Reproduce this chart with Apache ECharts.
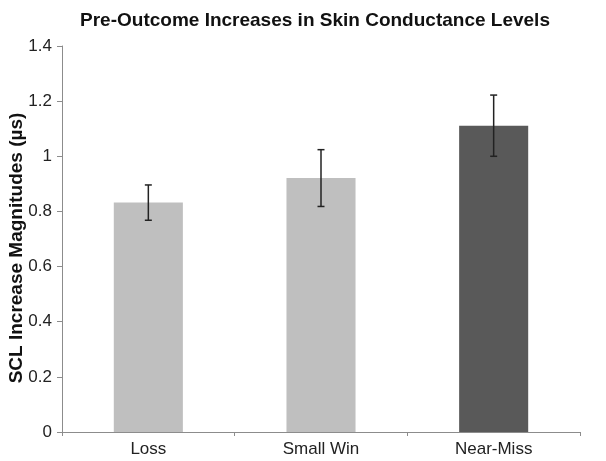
<!DOCTYPE html>
<html>
<head>
<meta charset="utf-8">
<script src="https://cdn.jsdelivr.net/npm/echarts@6/dist/echarts.min.js"></script>
<style>
  html, body { margin: 0; padding: 0; background: #fff; }
  #chart { width: 606px; height: 461px; }
</style>
</head>
<body>
<div id="chart"></div>
<script>
// Conditions and mean SCL increase per condition
var categories = ['Loss', 'Small Win', 'Near-Miss'];
var means = [0.832, 0.921, 1.111];
// Half-width of the error bar (standard error)
var errors = [0.064, 0.103, 0.111];
var barColors = ['#bfbfbf', '#bfbfbf', '#595959'];
var yTicks = [0, 0.2, 0.4, 0.6, 0.8, 1, 1.2, 1.4];

var chart = echarts.init(document.getElementById('chart'));

var barData = means.map(function (v, i) {
  return { value: v, itemStyle: { color: barColors[i] } };
});
var errData = means.map(function (v, i) {
  return [i, v - errors[i], v + errors[i]];
});

chart.setOption({
  animation: false,
  backgroundColor: '#ffffff',
  textStyle: { fontFamily: 'Liberation Sans, Arial, sans-serif' },
  title: {
    text: 'Pre-Outcome Increases in Skin Conductance Levels',
    left: 310,
    textAlign: 'center',
    top: 6,
    textStyle: { fontSize: 19, fontWeight: 'bold', color: '#111' }
  },
  grid: {
    left: 62, right: 26, top: 46, bottom: 29,
    containLabel: false,
    outerBoundsMode: 'none'
  },
  xAxis: {
    type: 'category',
    data: categories,
    axisLine: { lineStyle: { color: '#8c8c8c', width: 1 } },
    axisTick: { show: true, length: 4, lineStyle: { color: '#8c8c8c' } },
    axisLabel: { fontSize: 17, color: '#222', margin: 9 }
  },
  yAxis: {
    type: 'value',
    min: yTicks[0],
    max: yTicks[yTicks.length - 1],
    interval: 0.2,
    name: 'SCL Increase Magnitudes (\u00b5s)',
    nameLocation: 'middle',
    nameGap: 36,
    nameMoveOverlap: false,
    nameTextStyle: { fontSize: 19, fontWeight: 'bold', color: '#111', padding: [0, 18, 0, 0] },
    splitLine: { show: false },
    axisLine: { show: true, lineStyle: { color: '#8c8c8c', width: 1 } },
    axisTick: { show: true, length: 5, lineStyle: { color: '#8c8c8c' } },
    axisLabel: {
      fontSize: 17, color: '#222', margin: 10,
      formatter: function (v) { return String(Math.round(v * 10) / 10); }
    }
  },
  series: [
    {
      type: 'bar',
      data: barData,
      barWidth: '40%'
    },
    {
      type: 'custom',
      data: errData,
      z: 10,
      renderItem: function (params, api) {
        var x = api.value(0);
        var lo = api.coord([x, api.value(1)]);
        var hi = api.coord([x, api.value(2)]);
        var cap = 3.5;
        var style = { stroke: '#222', lineWidth: 1.5 };
        return {
          type: 'group',
          children: [
            { type: 'line', shape: { x1: hi[0], y1: hi[1], x2: lo[0], y2: lo[1] }, style: style },
            { type: 'line', shape: { x1: hi[0] - cap, y1: hi[1], x2: hi[0] + cap, y2: hi[1] }, style: style },
            { type: 'line', shape: { x1: lo[0] - cap, y1: lo[1], x2: lo[0] + cap, y2: lo[1] }, style: style }
          ]
        };
      }
    }
  ]
});
</script>
</body>
</html>
